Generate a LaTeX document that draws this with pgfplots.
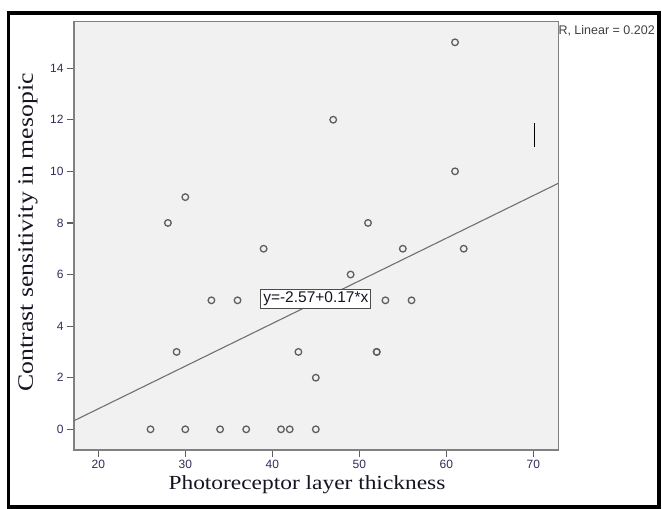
\documentclass[border=0pt]{standalone}
\usepackage{pgfplots}
\pgfplotsset{compat=1.18}
\usepackage{fontspec}
\setmainfont{Liberation Sans}
\newfontfamily\labelfont[FakeStretch=1.17]{Liberation Serif}
\definecolor{plotbg}{RGB}{241,241,241}
\definecolor{boxgray}{RGB}{128,128,128}
\definecolor{tickgray}{RGB}{95,95,95}
\definecolor{markgray}{RGB}{95,95,95}
\definecolor{linegray}{RGB}{112,112,112}
\definecolor{tickblue}{RGB}{45,45,90}
\definecolor{labelink}{RGB}{20,20,35}

\begin{document}
\begin{tikzpicture}[x=1pt,y=1pt]
\begin{axis}[
    at={(74pt,59pt)}, anchor=south west,
    scale only axis, width=484.3pt, height=428.3pt,
    xmin=17.207, xmax=72.87, ymin=-0.802, ymax=15.8,
    xtick={20,30,...,70}, ytick={0,2,...,14},
    tick pos=left, tick align=outside, major tick length=7pt,
    tick style={tickgray, line width=1.2pt},
    axis line style={boxgray, line width=1.3pt},
    axis background/.style={fill=plotbg},
    ticklabel style={font=\fontsize{12}{14}\selectfont, text=tickblue},
    /pgf/number format/assume math mode=true,
    xlabel={Photoreceptor layer thickness},
    ylabel={Contrast sensitivity in mesopic},
    xlabel style={at={(axis description cs:0.481,-0.0806)}, anchor=center,
        font=\labelfont\fontsize{20}{24}\selectfont, text=labelink},
    ylabel style={at={(axis description cs:-0.095,0.508)}, anchor=center,
        font=\labelfont\fontsize{22}{26}\selectfont, text=labelink},
    clip mode=individual,
]
% fit line as drawn in the figure
\addplot[draw=linegray, line width=1.1pt] coordinates {(17.207,0.333) (72.87,9.535)};

\addplot[only marks, mark=o, mark size=3.3pt,
    mark options={draw=markgray, line width=1.3pt}] coordinates {
    (26,0) (30,0) (34,0) (37,0) (41,0) (42,0) (45,0)
    (28,8) (30,9) (29,3) (33,5) (36,5) (39,7) (43,3) (45,2)
    (47,12) (49,6) (51,8) (53,5) (52,3) (52,3) (55,7) (56,5)
    (61,15) (61,10) (62,7)
};

\node[draw=black!70, fill=white, line width=0.9pt, inner xsep=2.5pt, inner ysep=2.5pt,
    text=labelink, font=\fontsize{15.5}{17}\selectfont]
    at (axis cs:45.0,5.05) {y=-2.57+0.17*x};
\node[anchor=west, inner sep=0pt, text=black!75, font=\fontsize{12.5}{14}\selectfont]
    at (axis description cs:1,0.979) {R, Linear = 0.202};
\draw[black, line width=1.2pt] (axis cs:70.1,10.95) -- (axis cs:70.1,11.87);
\end{axis}
\draw[line width=3.5pt, black] (8.5,2) rectangle (659,496);
\pgfresetboundingbox
\path[use as bounding box] (0,0) rectangle (662,509);
\end{tikzpicture}
\end{document}
